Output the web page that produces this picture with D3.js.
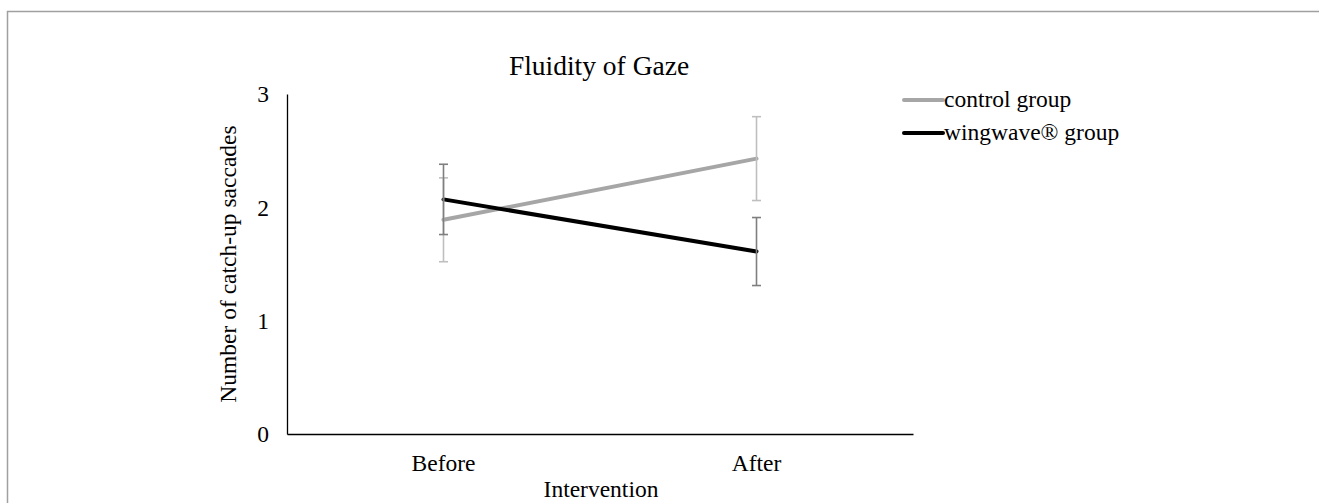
<!DOCTYPE html>
<html><head><meta charset="utf-8">
<script src="https://cdn.jsdelivr.net/npm/d3@7"></script>
<style>body{margin:0;background:#fff}svg{display:block}text{font-family:"Liberation Serif","Times New Roman",serif;fill:#000}</style>
</head><body><svg id="c" width="1319" height="503"></svg>
<script>
const categories = ["Before", "After"];
const seriesNames = ["control group", "wingwave\u00ae group"];
const controlMeans = [1.89, 2.43];
const controlErr = [0.37, 0.37];
const wingwaveMeans = [2.07, 1.61];
const wingwaveErr = [0.31, 0.30];
const yTicks = [0, 1, 2, 3];

const series = [
  {name: seriesNames[0], means: controlMeans, err: controlErr, color: "#a6a6a6", errColor: "#bfbfbf"},
  {name: seriesNames[1], means: wingwaveMeans, err: wingwaveErr, color: "#000000", errColor: "#7f7f7f"}
];

const svg = d3.select("#c");
svg.append("path").attr("d", "M7.5,503 V11.5 H1319").attr("fill", "none").attr("stroke", "#a0a0a0").attr("stroke-width", 1.5);

const x = d3.scaleBand().domain(categories).range([287, 913]);
const y = d3.scaleLinear().domain([0, 3]).range([434, 94]);

const FS = "23.5px";
// axes
const yAxis = d3.axisLeft(y).tickValues(yTicks).tickSize(0).tickPadding(18).tickFormat(d3.format("d"));
const gy = svg.append("g").attr("transform", "translate(287,0)").call(yAxis);
gy.select(".domain").attr("stroke", "#000").attr("stroke-width", 1.3);
gy.selectAll("text").style("font-size", FS).attr("dy", "0.33em");

const xAxis = d3.axisBottom(x).tickSize(0).tickPadding(20);
const gx = svg.append("g").attr("transform", "translate(0,434)").call(xAxis);
gx.select(".domain").attr("stroke", "#000").attr("stroke-width", 1.3);
gx.selectAll("text").style("font-size", FS);

const cx = c => x(c) + x.bandwidth() / 2;

// lines
const line = d3.line().x((d, i) => cx(categories[i])).y(d => y(d));
series.forEach(s => {
  svg.append("path").datum(s.means).attr("d", line).attr("fill", "none")
    .attr("stroke", s.color).attr("stroke-width", 4).attr("stroke-linecap", "round");
});
// error bars (drawn on top)
series.forEach(s => {
  const g = svg.append("g").attr("stroke", s.errColor).attr("stroke-width", 1.6);
  categories.forEach((c, i) => {
    const xx = cx(c), hi = y(s.means[i] + s.err[i]), lo = y(s.means[i] - s.err[i]);
    g.append("line").attr("x1", xx).attr("x2", xx).attr("y1", hi).attr("y2", lo);
    g.append("line").attr("x1", xx - 4.5).attr("x2", xx + 4.5).attr("y1", hi).attr("y2", hi);
    g.append("line").attr("x1", xx - 4.5).attr("x2", xx + 4.5).attr("y1", lo).attr("y2", lo);
  });
});

// title
svg.append("text").attr("x", 599).attr("y", 75).attr("text-anchor", "middle").style("font-size", "27.5px").text("Fluidity of Gaze");
// axis titles
svg.append("text").attr("x", 601).attr("y", 497).attr("text-anchor", "middle").style("font-size", FS).text("Intervention");
svg.append("text").attr("transform", "translate(236,264) rotate(-90)").attr("text-anchor", "middle").style("font-size", FS).text("Number of catch-up saccades");

// legend
series.forEach((s, i) => {
  const ly = 100 + i * 33;
  svg.append("line").attr("x1", 904).attr("x2", 943).attr("y1", ly).attr("y2", ly)
    .attr("stroke", s.color).attr("stroke-width", 4).attr("stroke-linecap", "round");
  svg.append("text").attr("x", 944).attr("y", ly).attr("dy", "0.3em").style("font-size", FS).text(s.name);
});
</script></body></html>
